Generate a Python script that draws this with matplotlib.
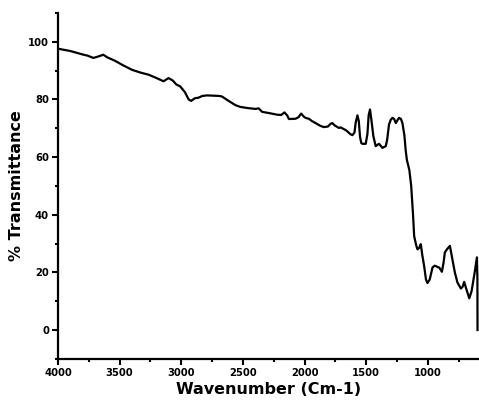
import matplotlib
matplotlib.use("Agg")
import matplotlib.pyplot as plt
from matplotlib.ticker import MultipleLocator

wavenumber = [4000, 3900, 3800, 3760, 3713, 3680, 3632, 3600, 3537, 3470, 3401, 3330, 3266, 3200,
              3144, 3103, 3070, 3040, 3008, 2970, 2940, 2919, 2890, 2860, 2830, 2791, 2740, 2690,
              2669, 2620, 2560, 2520, 2460, 2398, 2372, 2344, 2280, 2222, 2190, 2163, 2140, 2127,
              2073, 2050, 2027, 2010, 1992, 1965, 1940, 1911, 1870, 1843, 1810, 1790, 1775, 1756,
              1721, 1707, 1660, 1630, 1612, 1595, 1585, 1571, 1560, 1550, 1540, 1531, 1504, 1490,
              1480, 1469, 1458, 1442, 1423, 1396, 1368, 1341, 1330, 1315, 1300, 1287, 1273, 1260,
              1246, 1233, 1218, 1206, 1190, 1180, 1170, 1150, 1135, 1120, 1111, 1095, 1084, 1070,
              1057, 1045, 1030, 1015, 1003, 985, 962, 945, 935, 920, 908, 886, 872, 862, 845, 821,
              805, 781, 760, 732, 718, 705, 690, 664, 645, 620, 602, 598, 597]
transmittance = [97.6, 96.8, 95.6, 95.2, 94.4, 94.8, 95.5, 94.6, 93.4, 91.8, 90.3, 89.3, 88.6, 87.4,
                 86.3, 87.4, 86.6, 85.2, 84.5, 82.5, 80.0, 79.5, 80.4, 80.6, 81.2, 81.4, 81.3, 81.2,
                 81.0, 79.6, 78.0, 77.4, 77.0, 76.7, 76.9, 75.7, 75.2, 74.7, 74.6, 75.5, 74.4, 73.2,
                 73.3, 73.8, 75.1, 74.2, 73.6, 73.3, 72.5, 71.8, 70.8, 70.4, 70.6, 71.5, 71.8, 71.0,
                 70.1, 70.3, 69.2, 68.0, 67.6, 68.5, 72.0, 74.5, 72.5, 67.0, 64.9, 64.6, 64.6, 68.0,
                 74.5, 76.5, 73.0, 67.3, 63.8, 64.6, 63.2, 63.8, 66.0, 71.3, 73.0, 73.6, 73.2, 71.8,
                 72.8, 73.6, 73.2, 71.8, 67.5, 62.5, 59.0, 55.5, 50.0, 40.0, 32.6, 29.5, 28.0, 28.5,
                 29.8, 26.0, 22.2, 17.5, 16.3, 17.5, 21.7, 22.3, 22.2, 21.8, 21.7, 20.2, 23.5, 26.9,
                 28.0, 29.2, 25.5, 20.0, 16.5, 14.4, 15.0, 16.7, 14.5, 11.0, 13.5, 20.0, 25.2, 18.0, 0.0]

plt.rcParams['font.family'] = ['DejaVu Sans']
plt.rcParams['font.weight'] = 'bold'

fig = plt.figure(figsize=(4.79, 4.05), dpi=100)
ax = fig.add_axes([0.121, 0.114, 0.879, 0.854])
ax.plot(wavenumber, transmittance, color='black', lw=1.6)
ax.set_xlim(4000, 585)
ax.set_ylim(-10, 110)
ax.xaxis.set_major_locator(MultipleLocator(500))
ax.xaxis.set_minor_locator(MultipleLocator(250))
ax.yaxis.set_major_locator(MultipleLocator(20))
ax.yaxis.set_minor_locator(MultipleLocator(10))
for s in ['top', 'right']:
    ax.spines[s].set_visible(False)
for s in ['left', 'bottom']:
    ax.spines[s].set_linewidth(1.6)
ax.tick_params(which='major', direction='out', length=4.5, width=1.5, labelsize=7.2, pad=2)
ax.tick_params(which='minor', direction='out', length=2.5, width=1.5)
for lab in ax.get_xticklabels() + ax.get_yticklabels():
    lab.set_fontweight('bold')
ax.set_xlabel('Wavenumber (Cm-1)', fontsize=11.5, fontweight='bold', labelpad=3)
ax.set_ylabel('% Transmittance', fontsize=11.5, fontweight='bold', labelpad=3)
fig.savefig('out.png', dpi=100)
